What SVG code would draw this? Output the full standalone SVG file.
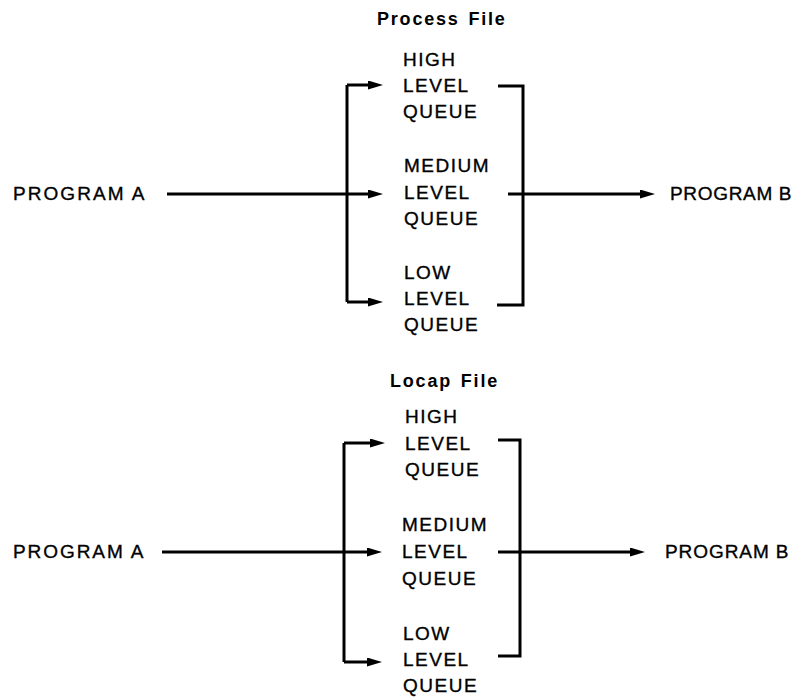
<svg xmlns="http://www.w3.org/2000/svg" width="804" height="698" viewBox="0 0 804 698">
<defs>
<style>
.t{font-family:"Liberation Sans",Arial,Helvetica,sans-serif;font-size:19px;letter-spacing:1.5px;fill:#000;stroke:#000;stroke-width:0.35px}
.h{font-family:"Liberation Sans",Arial,Helvetica,sans-serif;font-size:18px;font-weight:bold;letter-spacing:1.8px;word-spacing:2px;fill:#000}
.c{fill:none;stroke:#000;stroke-width:3;stroke-linecap:butt;stroke-linejoin:miter}
.a{marker-end:url(#arr)}
</style>
<marker id="arr" markerUnits="userSpaceOnUse" markerWidth="16" markerHeight="10" refX="5" refY="4.5" orient="auto">
<path d="M0,0 L15,4.5 L0,9 Z" fill="#000"/>
</marker>
</defs>
<rect width="804" height="698" fill="#fff"/>

<!-- Top: Process File -->
<g id="title-process"><text class="h" x="377" y="25">Process File</text></g>
<g id="p-progA"><text class="t" x="13" y="200" textLength="133" lengthAdjust="spacing">PROGRAM A</text></g>
<g id="p-high"><text class="t" x="403" y="66">HIGH</text><text class="t" x="403" y="92">LEVEL</text><text class="t" x="403" y="118">QUEUE</text></g>
<g id="p-medium"><text class="t" x="404" y="172">MEDIUM</text><text class="t" x="404" y="199">LEVEL</text><text class="t" x="404" y="225">QUEUE</text></g>
<g id="p-low"><text class="t" x="404" y="279">LOW</text><text class="t" x="404" y="305">LEVEL</text><text class="t" x="404" y="331">QUEUE</text></g>
<g id="p-progB"><text class="t" x="670" y="200" textLength="123" lengthAdjust="spacing">PROGRAM B</text></g>

<!-- Bottom: Locap File -->
<g id="title-locap"><text class="h" x="390" y="387">Locap File</text></g>
<g id="l-progA"><text class="t" x="13" y="558" textLength="132" lengthAdjust="spacing">PROGRAM A</text></g>
<g id="l-high"><text class="t" x="405" y="423">HIGH</text><text class="t" x="405" y="450">LEVEL</text><text class="t" x="405" y="476">QUEUE</text></g>
<g id="l-medium"><text class="t" x="402" y="531">MEDIUM</text><text class="t" x="402" y="558">LEVEL</text><text class="t" x="402" y="585">QUEUE</text></g>
<g id="l-low"><text class="t" x="403" y="640">LOW</text><text class="t" x="403" y="666">LEVEL</text><text class="t" x="403" y="692">QUEUE</text></g>
<g id="l-progB"><text class="t" x="665" y="558" textLength="125" lengthAdjust="spacing">PROGRAM B</text></g>

<g id="connectors">
<!-- top left fan -->
<path class="c" d="M347,302 V85"/>
<path class="c a" d="M347,85 H373"/>
<path class="c a" d="M167,194 H373"/>
<path class="c a" d="M347,302 H373"/>
<!-- top right collector -->
<path class="c" d="M498,86 H523 V305 H497"/>
<path class="c a" d="M508,194 H645"/>
<!-- bottom left fan -->
<path class="c" d="M344,662 V443"/>
<path class="c a" d="M344,443 H375"/>
<path class="c a" d="M162,552 H372"/>
<path class="c a" d="M344,662 H372"/>
<!-- bottom right collector -->
<path class="c" d="M498,440 H520 V656 H498"/>
<path class="c a" d="M498,552 H635"/>
</g>
</svg>
